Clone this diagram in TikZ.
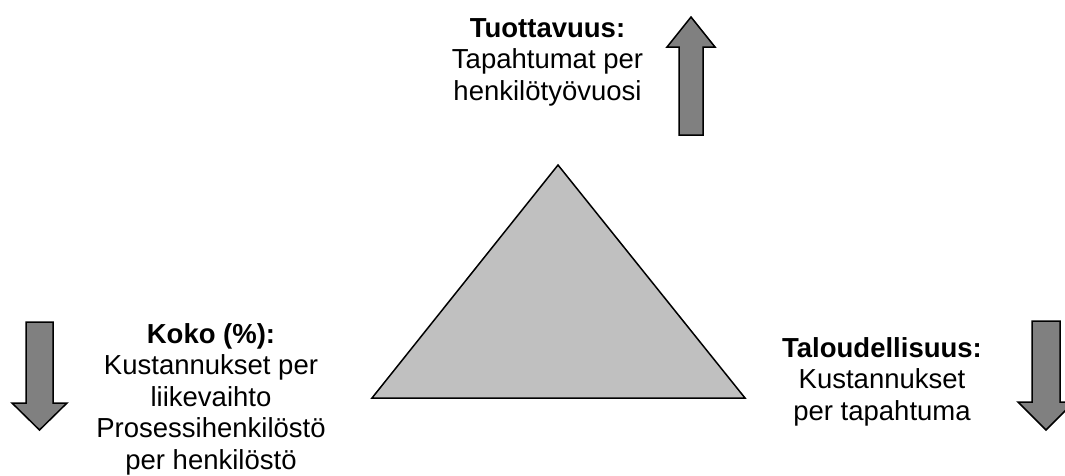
\documentclass[tikz,border=0pt]{standalone}
\usepackage{fontspec}
\setmainfont{Liberation Sans}
\definecolor{arrowgray}{HTML}{808080}
\definecolor{trigray}{HTML}{C0C0C0}
\tikzset{
  blockarrow/.style={draw=black, fill=arrowgray, line width=1.5pt, line join=miter},
  pyramid/.style={draw=black, fill=trigray, line width=1.5pt, line join=miter},
  % anchored at the baseline of the last line
  label/.style={align=center, anchor=base, inner sep=0pt,
    font=\fontsize{27.5}{31.5}\selectfont}
}
\begin{document}
\begin{tikzpicture}[x=1pt, y=-1pt]
  \useasboundingbox (0,0) rectangle (1065,475);
  \clip (0,0) rectangle (1065,475);

  % central triangle
  \draw[pyramid] (558,165) -- (745,398) -- (372,398) -- cycle;

  % up arrow (productivity)
  \draw[blockarrow] (679,135) -- (679,47) -- (667,47) -- (691,17) -- (715,47)
    -- (703,47) -- (703,135) -- cycle;

  % down arrow, left (size)
  \draw[blockarrow] (26,322) -- (53,322) -- (53,403) -- (67,403) -- (39.5,430)
    -- (12,403) -- (26,403) -- cycle;

  % down arrow, right (economy)
  \draw[blockarrow] (1032,321) -- (1060,321) -- (1060,402) -- (1074,402) -- (1046,430)
    -- (1018,402) -- (1032,402) -- cycle;

  % labels
  \node[label] (tuott) at (547.5,100) {\textbf{Tuottavuus:}\\Tapahtumat per\\henkilötyövuosi};
  \node[label] (koko) at (211,469) {\textbf{Koko (\%):}\\Kustannukset per\\liikevaihto\\Prosessihenkilöstö\\per henkilöstö};
  \node[label] (talous) at (882,420) {\textbf{Taloudellisuus:}\\Kustannukset\\per tapahtuma};
\end{tikzpicture}
\end{document}
